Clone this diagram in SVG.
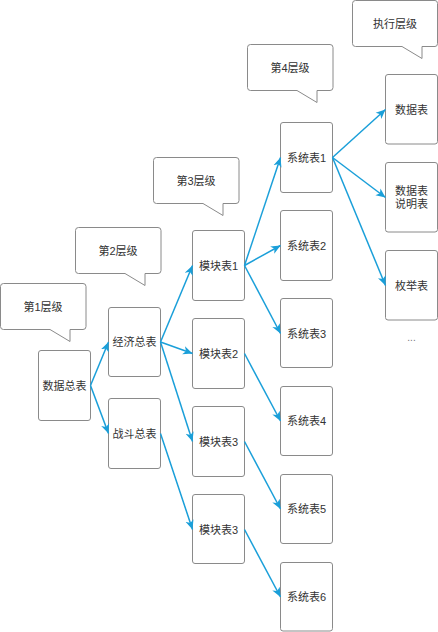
<svg xmlns="http://www.w3.org/2000/svg" width="438" height="632" viewBox="0 0 438 632">
<style>
.box{fill:#fff;stroke:#8a8a8a;stroke-width:1}
.t{font-family:"Liberation Sans","Noto Sans CJK SC",sans-serif;font-size:11px;fill:#333;text-anchor:middle;dominant-baseline:central}
.c{fill:none;stroke:#1a9fd9;stroke-width:1.5}
</style>
<defs>
<marker id="ah" markerUnits="userSpaceOnUse" markerWidth="10" markerHeight="10" viewBox="0 0 10 10" refX="9.5" refY="5" orient="auto">
<path d="M0,0.8 L9.5,5 L0,9.2 L2.6,5 Z" fill="#1a9fd9"/>
</marker>
</defs>
<rect width="438" height="632" fill="#fff"/>
<g id="callout1"><path class="box" d="M3.5,283.5 H83 Q86,283.5 86,286.5 V326.5 Q86,329.5 83,329.5 H70 V341.5 L50,329.5 H3.5 Q0.5,329.5 0.5,326.5 V286.5 Q0.5,283.5 3.5,283.5 Z"/><text class="t" x="43" y="306.5">第1层级</text></g>
<g id="callout2"><path class="box" d="M78.5,227.5 H158 Q161,227.5 161,230.5 V270.5 Q161,273.5 158,273.5 H145 V285.5 L125,273.5 H78.5 Q75.5,273.5 75.5,270.5 V230.5 Q75.5,227.5 78.5,227.5 Z"/><text class="t" x="118" y="250.5">第2层级</text></g>
<g id="callout3"><path class="box" d="M156.5,157.5 H236 Q239,157.5 239,160.5 V200.5 Q239,203.5 236,203.5 H223 V215.5 L203,203.5 H156.5 Q153.5,203.5 153.5,200.5 V160.5 Q153.5,157.5 156.5,157.5 Z"/><text class="t" x="196" y="180.5">第3层级</text></g>
<g id="callout4"><path class="box" d="M250.5,44.5 H330 Q333,44.5 333,47.5 V87.5 Q333,90.5 330,90.5 H317 V102.5 L297,90.5 H250.5 Q247.5,90.5 247.5,87.5 V47.5 Q247.5,44.5 250.5,44.5 Z"/><text class="t" x="290" y="67.5">第4层级</text></g>
<g id="callout5"><path class="box" d="M355.5,0.5 H435 Q437.5,0.5 437.5,3.5 V43.5 Q437.5,46.5 435,46.5 H422 V58.5 L402,46.5 H355.5 Q352.5,46.5 352.5,43.5 V3.5 Q352.5,0.5 355.5,0.5 Z"/><text class="t" x="395" y="23.5">执行层级</text></g>

<g id="n-shujuzongbiao"><rect class="box" x="38.5" y="350.5" width="52" height="70" rx="2.5"/><text class="t" x="64.5" y="385.5">数据总表</text></g>
<g id="n-jingji"><rect class="box" x="108.5" y="307.5" width="52" height="69" rx="2.5"/><text class="t" x="134.5" y="342">经济总表</text></g>
<g id="n-zhandou"><rect class="box" x="108.5" y="398.5" width="52" height="70" rx="2.5"/><text class="t" x="134.5" y="433.5">战斗总表</text></g>

<g id="n-mokuai1"><rect class="box" x="192.5" y="230.5" width="52" height="70" rx="2.5"/><text class="t" x="218.5" y="265.5">模块表1</text></g>
<g id="n-mokuai2"><rect class="box" x="192.5" y="318.5" width="52" height="70" rx="2.5"/><text class="t" x="218.5" y="353.5">模块表2</text></g>
<g id="n-mokuai3"><rect class="box" x="192.5" y="406.5" width="52" height="70" rx="2.5"/><text class="t" x="218.5" y="441.5">模块表3</text></g>
<g id="n-mokuai3b"><rect class="box" x="192.5" y="494.5" width="52" height="69" rx="2.5"/><text class="t" x="218.5" y="529.5">模块表3</text></g>

<g id="n-xitong1"><rect class="box" x="280.5" y="122.5" width="52" height="70" rx="2.5"/><text class="t" x="306.5" y="157.5">系统表1</text></g>
<g id="n-xitong2"><rect class="box" x="280.5" y="210.5" width="52" height="70" rx="2.5"/><text class="t" x="306.5" y="245.5">系统表2</text></g>
<g id="n-xitong3"><rect class="box" x="280.5" y="298.5" width="52" height="69" rx="2.5"/><text class="t" x="306.5" y="333.5">系统表3</text></g>
<g id="n-xitong4"><rect class="box" x="280.5" y="386.5" width="52" height="69" rx="2.5"/><text class="t" x="306.5" y="421">系统表4</text></g>
<g id="n-xitong5"><rect class="box" x="280.5" y="474.5" width="52" height="69" rx="2.5"/><text class="t" x="306.5" y="509">系统表5</text></g>
<g id="n-xitong6"><rect class="box" x="280.5" y="562.5" width="52" height="68.5" rx="2.5"/><text class="t" x="306.5" y="597">系统表6</text></g>

<g id="n-shujubiao"><rect class="box" x="385.5" y="74.5" width="52" height="69.5" rx="2.5"/><text class="t" x="411.5" y="109.5">数据表</text></g>
<g id="n-shuomingbiao"><rect class="box" x="385.5" y="162.5" width="52" height="69.5" rx="2.5"/><text class="t" x="411.5" y="191">数据表</text><text class="t" x="411.5" y="203.5">说明表</text></g>
<g id="n-meijubiao"><rect class="box" x="385.5" y="250.5" width="52" height="69.5" rx="2.5"/><text class="t" x="411.5" y="285.5">枚举表</text></g>
<g id="n-more"><text class="t" x="411.5" y="337" style="fill:#777;font-size:10px">...</text></g>

<g id="connectors" marker-end="url(#ah)">
<line class="c" x1="90.5" y1="385.5" x2="108.5" y2="342" marker-end="url(#ah)"/>
<line class="c" x1="90.5" y1="385.5" x2="108.5" y2="433.5" marker-end="url(#ah)"/>
<line class="c" x1="160.5" y1="342" x2="192.5" y2="265.5" marker-end="url(#ah)"/>
<line class="c" x1="160.5" y1="342" x2="192.5" y2="353.5" marker-end="url(#ah)"/>
<line class="c" x1="160.5" y1="342" x2="192.5" y2="441.5" marker-end="url(#ah)"/>
<line class="c" x1="160.5" y1="433.5" x2="192.5" y2="529.5" marker-end="url(#ah)"/>
<line class="c" x1="244.5" y1="265.5" x2="280.5" y2="157.5" marker-end="url(#ah)"/>
<line class="c" x1="244.5" y1="265.5" x2="280.5" y2="245.5" marker-end="url(#ah)"/>
<line class="c" x1="244.5" y1="265.5" x2="280.5" y2="333.5" marker-end="url(#ah)"/>
<line class="c" x1="244.5" y1="353.5" x2="280.5" y2="421" marker-end="url(#ah)"/>
<line class="c" x1="244.5" y1="441.5" x2="280.5" y2="509" marker-end="url(#ah)"/>
<line class="c" x1="244.5" y1="529.5" x2="280.5" y2="597" marker-end="url(#ah)"/>
<line class="c" x1="332.5" y1="157.5" x2="385.5" y2="109.5" marker-end="url(#ah)"/>
<line class="c" x1="332.5" y1="157.5" x2="385.5" y2="197.5" marker-end="url(#ah)"/>
<line class="c" x1="332.5" y1="157.5" x2="385.5" y2="285.5" marker-end="url(#ah)"/>
</g>
</svg>
